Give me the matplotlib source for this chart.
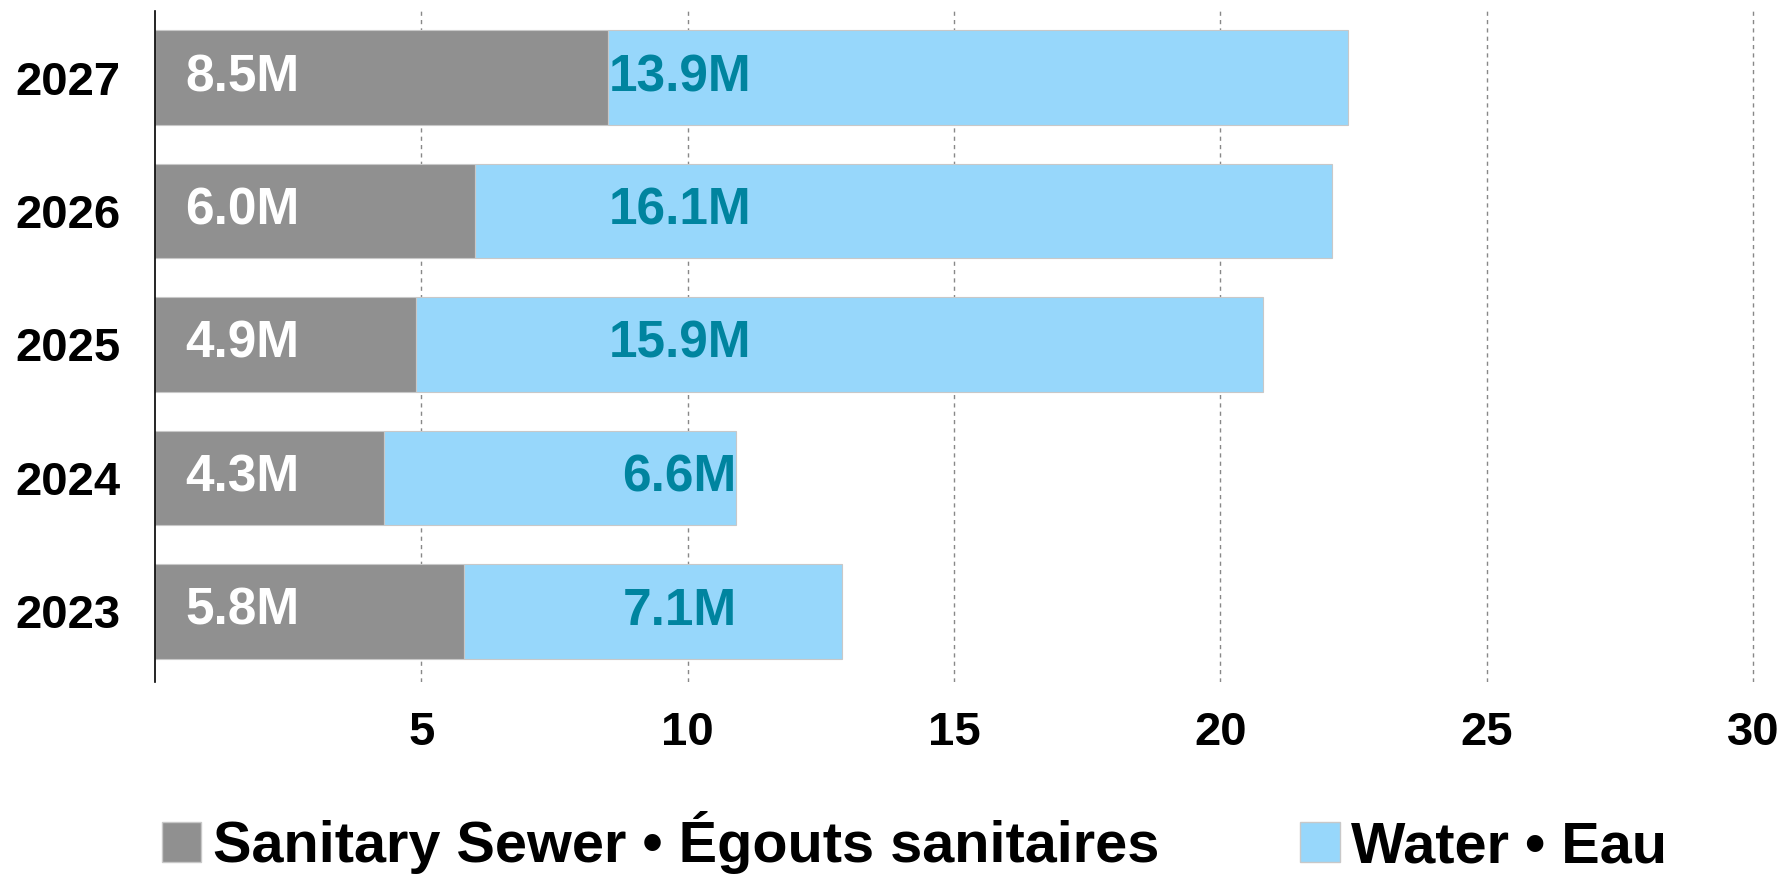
import matplotlib
matplotlib.use("Agg")
import matplotlib.pyplot as plt
from matplotlib.patches import Patch
from matplotlib import font_manager

# condensed bold look, fall back if narrow face is missing
names = {f.name for f in font_manager.fontManager.ttflist}
fam = "Liberation Sans Narrow" if "Liberation Sans Narrow" in names else "Liberation Sans"
plt.rcParams['font.family'] = [fam, 'DejaVu Sans']

years = ["2023", "2024", "2025", "2026", "2027"]
sewer = [5.8, 4.3, 4.9, 6.0, 8.5]
water = [7.1, 6.6, 15.9, 16.1, 13.9]
xticks = [5, 10, 15, 20, 25, 30]

grey = "#909090"
blue = "#97d7fb"
teal = "#00849f"

fig = plt.figure(figsize=(17.89, 8.74), dpi=100)
px = 53.27  # pixels per unit on x
ax = fig.add_axes([155/1789, 1 - 682/874, 30.1*px/1789, (682 - 11)/874])

y = list(range(len(years)))
ax.barh(y, sewer, height=0.71, color=grey, edgecolor="#c8c8c8", linewidth=0.8, zorder=2)
ax.barh(y, water, left=sewer, height=0.71, color=blue, edgecolor="#c8c8c8", linewidth=0.8, zorder=2)

for i in range(len(years)):
    ax.text(0.57, y[i], f"{sewer[i]:.1f}M", color="white", fontsize=37, fontweight="bold",
            ha="left", va="center", zorder=3)
    ax.text(9.85, y[i], f"{water[i]:.1f}M", color=teal, fontsize=37, fontweight="bold",
            ha="center", va="center", zorder=3)

ax.set_xlim(0, 30.1)
ax.set_ylim(-0.53, 4.5)
ax.set_xticks(xticks)
ax.set_xticklabels([str(t) for t in xticks], fontsize=34, fontweight="bold")
ax.set_yticks(y)
ax.set_yticklabels(years, fontsize=34, fontweight="bold")
ax.tick_params(axis="both", length=0)
ax.tick_params(axis="x", pad=21)
ax.tick_params(axis="y", pad=25)

ax.grid(axis="x", linestyle=(0, (3, 3)), color="#888888", linewidth=1, zorder=1)
for s in ["top", "right", "bottom"]:
    ax.spines[s].set_visible(False)
ax.spines["left"].set_color("black")
ax.spines["left"].set_linewidth(1.2)

handles = [Patch(facecolor=grey, edgecolor="#c8c8c8"), Patch(facecolor=blue, edgecolor="#c8c8c8")]
fig.legend(handles, ["Sanitary Sewer • Égouts sanitaires", "Water • Eau"],
           loc="center left", bbox_to_anchor=(162/1789, 1 - 843/874), ncol=2, frameon=False,
           prop={"size": 41.5, "weight": "bold"}, handlelength=0.68, handleheight=0.68,
           handletextpad=0.2, columnspacing=2.45, borderpad=0, borderaxespad=0)

fig.savefig("out.png", dpi=100)
